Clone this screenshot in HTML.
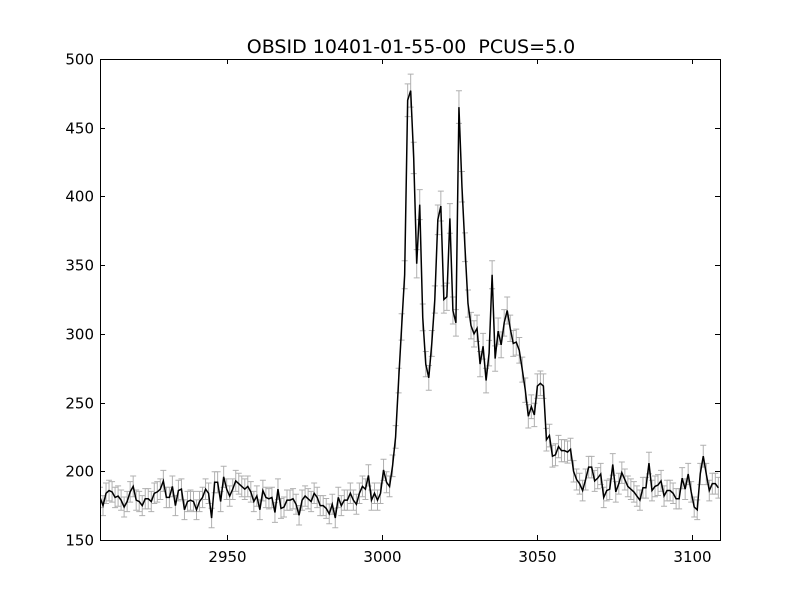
<!DOCTYPE html>
<html><head><meta charset="utf-8">
<style>
html,body{margin:0;padding:0;background:#fff;}
svg{display:block;font-family:"DejaVu Sans","Liberation Sans",sans-serif;}
</style></head>
<body>
<svg id="chart" width="800" height="600" viewBox="0 0 800 600" xmlns="http://www.w3.org/2000/svg">
<rect x="0" y="0" width="800" height="600" fill="#fff"/>
<text x="411" y="53" font-size="19" text-anchor="middle" xml:space="preserve" style="white-space:pre">OBSID 10401-01-55-00  PCUS=5.0</text>
<g id="errs"></g>
<g id="line"></g>
<rect x="100.5" y="59.5" width="620" height="481" fill="none" stroke="#000" stroke-width="1"/>
<g id="axes"></g>
</svg>
<script>
const xStart = 2909;
const xStep = 0.973;
const yTicks = [150,200,250,300,350,400,450,500];
const xTicks = [2950,3000,3050,3100];
const counts = [
181,175,184,186,185,181,182,179,174,178,185,189,179,178,175,180,180,178,184,185,187,193,181,181,189,175,186,187,172,178,179,178,172,178,181,187,184,166,192,192,178,196,187,182,187,193,191,189,187,189,185,178,182,172,186,181,180,181,170,187,173,174,179,179,180,176,168,179,182,180,178,184,181,175,175,173,169,176,166,181,175,179,179,184,179,176,184,189,187,197,179,184,179,184,
201,192,189,204,225,266,305,343,470,477,428,351,394,312,278,268,293,325,383,393,325,327,384,317,308,465,407,363,322,306,300,304,278,291,266,286,343,282,302,292,308,317,304,293,294,288,274,259,240,247,241,262,264,262,223,226,211,212,218,215,215,
214,216,200,194,191,186,194,203,203,193,195,198,181,186,187,205,185,191,199,194,189,187,185,182,179,188,188,206,186,189,190,193,182,186,186,184,180,180,195,187,198,185,174,172,198,211,198,186,191,191,188
];
const X0=100, X1=720, D0=2909, D1=3109;
const Y0=540, Y1=59, V0=150, V1=500;
function sx(v){return X0+(v-D0)/(D1-D0)*(X1-X0);}
function sy(v){return Y0-(v-V0)/(V1-V0)*(Y0-Y1);}
const NS="http://www.w3.org/2000/svg";
const errs=document.getElementById('errs');
const lineG=document.getElementById('line');
const axes=document.getElementById('axes');
let d="";
counts.forEach((c,i)=>{
  const xv=xStart+i*xStep;
  const px=sx(xv);
  const e=Math.sqrt(c)*0.55;
  const t=sy(c+e), b=sy(c-e);
  const p=document.createElementNS(NS,'path');
  p.setAttribute('d',`M${px},${t}V${b}M${px-3},${t}H${px+3}M${px-3},${b}H${px+3}`);
  p.setAttribute('stroke','#b0b0b0');p.setAttribute('stroke-width','1');p.setAttribute('fill','none');
  
  
  errs.appendChild(p);
  d+=(i?"L":"M")+px.toFixed(2)+","+sy(c).toFixed(2);
});
const cp=document.createElementNS(NS,'clipPath');cp.setAttribute('id','clip');
const cr=document.createElementNS(NS,'rect');cr.setAttribute('x',X0);cr.setAttribute('y',Y1);cr.setAttribute('width',X1-X0);cr.setAttribute('height',Y0-Y1);
cp.appendChild(cr);document.getElementById('chart').appendChild(cp);
errs.setAttribute('clip-path','url(#clip)');
const path=document.createElementNS(NS,'path');
path.setAttribute('d',d);path.setAttribute('stroke','#000');path.setAttribute('stroke-width','1.5');path.setAttribute('fill','none');
path.setAttribute('clip-path','url(#clip)');


lineG.appendChild(path);
yTicks.forEach(v=>{
  const y=Math.round(sy(v))+0.5;
  const tk=document.createElementNS(NS,'path');
  tk.setAttribute('d',`M${X0},${y}H${X0+5}M${X1},${y}H${X1-5}`);tk.setAttribute('stroke','#000');
  
  
  axes.appendChild(tk);
  const t=document.createElementNS(NS,'text');
  t.setAttribute('x',X0-6);t.setAttribute('y',y+5);t.setAttribute('font-size','15');t.setAttribute('text-anchor','end');
  t.textContent=v;
  
  
  axes.appendChild(t);
});
xTicks.forEach(v=>{
  const x=Math.round(sx(v))+0.5;
  const tk=document.createElementNS(NS,'path');
  tk.setAttribute('d',`M${x},${Y0}V${Y0-5}M${x},${Y1}V${Y1+5}`);tk.setAttribute('stroke','#000');
  
  
  axes.appendChild(tk);
  const t=document.createElementNS(NS,'text');
  t.setAttribute('x',x);t.setAttribute('y',Y0+22);t.setAttribute('font-size','15');t.setAttribute('text-anchor','middle');
  t.textContent=v;
  
  
  axes.appendChild(t);
});
</script>
</body></html>
